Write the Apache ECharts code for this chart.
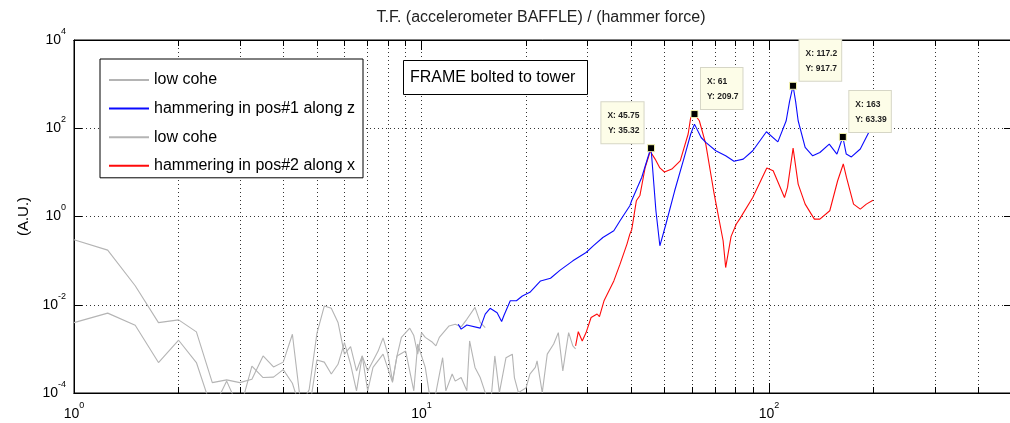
<!DOCTYPE html>
<html><head><meta charset="utf-8">
<script src="https://cdn.jsdelivr.net/npm/echarts@6/dist/echarts.min.js"></script>
<style>html,body{margin:0;padding:0;background:#fff}#c{width:1010px;height:423px}</style>
</head><body><div id="c"></div>
<script>
// ---------------- data (frequency in Hz, amplitude in A.U.) ----------------
const lowCoheAFreq = [1,1.25,1.5,1.75,2,2.25,2.5,2.75,3,3.25,3.5,3.75,4,4.25,4.5,4.75,5,5.25,5.5,5.75,6,6.25,6.5,6.75,7,7.5,7.75,8,8.25,8.5,8.75,9.25,9.5,9.75,10,10.25,10.75,11,11.25,12,12.5,13,13.5,14.25,14.75,15.25];
const lowCoheAAmp = [0.296,0.173,0.0269,0.00394,0.00455,0.00243,0.000172,0.000198,0.000172,0.000204,0.000692,0.000389,0.000501,0.00215,0.00005,0.00012,0.00224,0.00933,0.00832,0.00398,0.000759,0.00112,0.000316,0.000692,0.000316,0.000891,0.00178,0.000759,0.000186,0.000692,0.00182,0.00295,0.002,0.000759,0.00234,0.00182,0.00141,0.00117,0.00182,0.00331,0.00363,0.00316,0.00468,0.00871,0.00398,0.00302];

const pos1Freq = [12.75,13,13.5,14.75,15.25,15.75,16.5,17,17.25,18,18.75,19.5,20.5,22,23.5,25,27.25,29.75,31.25,33.25,35.75,37.25,39.75,40.25,43,45.25,45.75,47.25,48.5,50.5,53.5,57,59.5,61,63.75,65.75,70.25,75,79.25,84.25,89.75,98.25,106,112,114.5,117.2,119.25,121.25,127,133.5,140,149,156.75,163,166.75,172.5,183,194];
const pos1Amp = [0.00363,0.0028,0.00347,0.00295,0.00612,0.00832,0.00661,0.00417,0.00562,0.0123,0.0123,0.0158,0.0191,0.0347,0.0398,0.06,0.0989,0.153,0.219,0.334,0.474,0.798,1.75,2.3,7.66,28.2,35.32,1.35,0.217,0.676,3.83,21.9,74.1,124,61.7,47.9,30.9,23.8,17.8,20,30.9,83.2,49,148,400,917.7,400,148,36.7,23.8,28.2,43.7,26,63.39,26,22.4,33.9,83.2];

const lowCoheBFreq = [1,1.25,1.5,1.75,2,2.25,2.5,2.75,3,3.25,3.5,3.75,4,4.25,4.5,4.75,5,5.25,5.5,5.75,6,6.25,6.5,6.75,7,7.25,7.75,8.25,8.5,9,9.5,9.75,10.25,10.5,10.75,11.5,11.75,12.25,12.5,13,13.5,13.75,14.25,14.75,15.25,15.75,16.25,16.75,17.5,18.25,18.5,19,20,20.5,21.25,21.5,22.25,23,24,24.75,25.5,26,26.5,27.25,27.75];
const lowCoheBAmp = [0.00394,0.00646,0.00344,0.00049,0.00157,0.00049,0.00004,0.000186,0.00004,0.000407,0.000224,0.000229,0.000339,0.000166,0.00004,0.00004,0.000562,0.000501,0.000269,0.000447,0.00138,0.000447,0.000112,0.000692,0.000112,0.00038,0.000759,0.000174,0.000692,0.000891,0.000112,0.00129,0.00038,0.000112,0.00004,0.000631,0.000112,0.000269,0.000186,0.000224,0.000112,0.00151,0.00038,0.000224,0.000102,0.00004,0.000692,0.000102,0.000631,0.000759,0.000224,0.000102,0.000132,0.000269,0.00038,0.000537,0.000102,0.000759,0.00129,0.00234,0.000316,0.000891,0.00234,0.00117,0.001];

const pos2Freq = [27.75,28.25,29,29.75,30.75,32,32.5,33.5,35.75,37.25,39,39.75,40.25,41.5,42.5,44,45.5,47,48.5,50,52.5,55.5,58.5,59.5,61,63,65.75,69.5,73.75,75,77.75,80.5,82.25,89.75,98.5,102.75,110.75,113,117.25,121.25,127,135,140,149.5,157.5,163.5,167,175,183,190.5,199];
const pos2Amp = [0.00117,0.00245,0.00151,0.00234,0.00513,0.00617,0.00537,0.0123,0.0347,0.0832,0.237,0.398,0.5,2.27,3.0,12.9,30,20,12.6,10.2,11.9,18.2,74.1,176,209.7,148,43.7,3.24,0.282,0.0697,0.355,0.676,0.871,2.69,12.6,10.9,2.69,4.57,35.5,5.43,1.91,0.871,0.871,1.35,6.46,15.5,7.66,1.91,1.47,1.91,2.34];

const tipFreq = [45.75, 61, 117.2, 163];
const tipAmp = [35.32, 209.7, 917.7, 63.39];

const xTickDecades = [0, 1, 2];        // 10^0 .. 10^2
const xMaxFreq = 500;

const seriesNames = ['low cohe', 'hammering in pos#1 along z', 'low cohe\u200b', 'hammering in pos#2 along x'];
const titleText = 'T.F. (accelerometer BAFFLE) / (hammer force)';
const yName = '(A.U.)';
const noteText = 'FRAME bolted to tower';

// ---------------- build ----------------
const L = Math.log10;
const toPts = (f, a) => f.map((v, i) => [L(v), L(a[i])]);
const minorVals = [];
for (let d = 0; d < 3; d++) for (let k = 1; k <= 9; k++) {
  const v = k * Math.pow(10, d);
  if (v <= xMaxFreq) minorVals.push(L(v));
}
const FONT = 'Liberation Sans';
const supFmt = v => '{b|10}{s|' + Math.round(v) + '}';
const rich = {
  b: { fontFamily: FONT, fontSize: 14, color: '#000', lineHeight: 14, verticalAlign: 'bottom' },
  s: { fontFamily: FONT, fontSize: 9, color: '#000', verticalAlign: 'top', padding: [0, 0, 11, 0] }
};
const gridLine = { show: true, lineStyle: { color: '#333', width: 1, type: [1, 3] } };

const tipSide = ['left', 'right', 'right', 'right'];
function tipItem(i) {
  const left = tipSide[i] === 'left';
  return {
    coord: [L(tipFreq[i]), L(tipAmp[i])],
    label: {
      formatter: 'X: ' + tipFreq[i] + '\nY: ' + tipAmp[i],
      position: left ? [-3.5, -1] : [10.5, -1],
      align: left ? 'right' : 'left',
      verticalAlign: 'bottom'
    }
  };
}
const tipLabel = {
  show: true, fontFamily: FONT, fontSize: 8.5, fontWeight: 'bold', color: '#222', lineHeight: 15,
  backgroundColor: '#fdfde8', borderColor: '#d6d6c6', borderWidth: 1, padding: [6, 4, 5, 6]
};
const markPointBase = {
  symbol: 'rect', symbolSize: 7,
  itemStyle: { color: '#000', borderColor: '#f4f4b0', borderWidth: 1 },
  label: tipLabel, animation: false
};

function lineSeries(name, f, a, color, z, tips) {
  const s = {
    type: 'line', name, data: toPts(f, a), symbol: 'none', showSymbol: false,
    lineStyle: { color, width: 1.1 }, itemStyle: { color }, z, clip: true, animation: false
  };
  if (tips && tips.length) s.markPoint = Object.assign({}, markPointBase, { data: tips.map(tipItem) });
  return s;
}

const axisLineStyle = { show: true, onZero: false, lineStyle: { color: '#000', width: 1 } };
function xAxisDef(position, tickVals, tickLen, withLabels) {
  return {
    type: 'value', min: 0, max: L(xMaxFreq), position,
    axisLine: axisLineStyle,
    axisTick: { show: true, inside: true, length: tickLen, customValues: tickVals, lineStyle: { color: '#000' } },
    axisLabel: withLabels ? { customValues: xTickDecades, formatter: supFmt, margin: 8, rich } : { show: false },
    splitLine: withLabels ? gridLine : { show: false }
  };
}

const chart = echarts.init(document.getElementById('c'), null, { renderer: 'canvas' });
chart.setOption({
  animation: false,
  backgroundColor: '#fff',
  textStyle: { fontFamily: FONT },
  title: {
    text: titleText, left: 541, top: 10, textAlign: 'center', padding: 0,
    textStyle: { fontFamily: FONT, fontSize: 16, fontWeight: 'normal', color: '#222' }
  },
  grid: { left: 74, top: 40, right: -2, bottom: 30, show: true, borderColor: '#000', borderWidth: 1, outerBoundsMode: 'none', containLabel: false },
  legend: {
    orient: 'vertical', left: 100, top: 59, padding: [13, 8, 4, 8], itemGap: 12.6,
    itemWidth: 40, itemHeight: 14, backgroundColor: '#fff', borderColor: '#000', borderWidth: 1,
    selectedMode: false, data: seriesNames,
    itemStyle: { opacity: 0 },
    textStyle: { fontFamily: FONT, fontSize: 16, color: '#000', lineHeight: 14 }
  },
  xAxis: [
    xAxisDef('bottom', minorVals, 6, true),
    xAxisDef('top', minorVals, 6, false),
    xAxisDef('bottom', xTickDecades, 10, false),
    xAxisDef('top', xTickDecades, 10, false)
  ],
  yAxis: [{
    type: 'value', min: -4, max: 4, interval: 2, position: 'left',
    axisLine: axisLineStyle,
    axisTick: { show: true, inside: true, length: 8, lineStyle: { color: '#000' } },
    axisLabel: { formatter: supFmt, margin: 8, rich, padding: [0, 0, 6, 0] },
    splitLine: gridLine,
    name: yName, nameLocation: 'middle', nameGap: 37, nameRotate: 90,
    nameTextStyle: { fontFamily: FONT, fontSize: 15, color: '#000' }
  }, {
    type: 'value', min: -4, max: 4, interval: 2, position: 'right',
    axisLine: axisLineStyle,
    axisTick: { show: true, inside: true, length: 8, lineStyle: { color: '#000' } },
    axisLabel: { show: false }, splitLine: { show: false }
  }],
  graphic: [
    { type: 'rect', z: 100, shape: { x: 403.5, y: 60.5, width: 184, height: 34 }, style: { fill: '#fff', stroke: '#000', lineWidth: 1 } },
    { type: 'text', z: 101, x: 410, y: 78, style: { text: noteText, font: '16px "Liberation Sans"', fill: '#000', verticalAlign: 'middle' } }
  ],
  series: [
    lineSeries(seriesNames[0], lowCoheAFreq, lowCoheAAmp, '#b4b4b4', 2),
    lineSeries(seriesNames[1], pos1Freq, pos1Amp, '#0a0aff', 4, [0, 2, 3]),
    lineSeries(seriesNames[2], lowCoheBFreq, lowCoheBAmp, '#b4b4b4', 2),
    lineSeries(seriesNames[3], pos2Freq, pos2Amp, '#ff0a0a', 3, [1])
  ]
});
</script></body></html>
